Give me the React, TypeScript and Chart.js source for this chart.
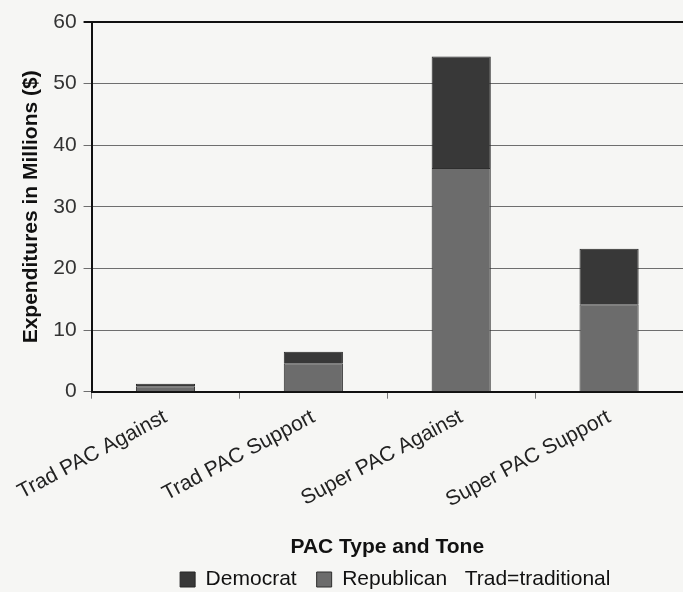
import React, { useEffect, useRef } from "react";
import { Chart, registerables } from "chart.js";

Chart.register(...registerables);

const categories = ["Trad PAC Against", "Trad PAC Support", "Super PAC Against", "Super PAC Support"];
const republican = [0.9, 4.6, 36.3, 14.2];
const democrat = [0.4, 1.9, 18.1, 9.0];
const yTicks = [0, 10, 20, 30, 40, 50, 60];
const xTitle = "PAC Type and Tone";
const yTitle = "Expenditures in Millions ($)";
const legendNote = "Trad=traditional";

const legendShift = {
  id: "legendShift",
  afterLayout(chart: any) {
    const lg = chart.legend;
    if (lg) {
      lg.left += 8;
      lg.right += 8;
    }
  },
};

export default function App() {
  const ref = useRef<HTMLCanvasElement>(null);

  useEffect(() => {
    document.body.style.margin = "0";
    const font = "'Liberation Sans', Arial, Helvetica, sans-serif";
    const chart = new Chart(ref.current as HTMLCanvasElement, {
      type: "bar",
      data: {
        labels: categories,
        datasets: [
          { label: "Republican", data: republican, backgroundColor: "#6c6c6c", borderColor: "#2e2e2e", borderWidth: 1 },
          { label: "Democrat", data: democrat, backgroundColor: "#383838", borderColor: "#262626", borderWidth: 1 },
        ],
      },
      options: {
        animation: false,
        responsive: false,
        layout: { padding: { left: 13, top: 22, right: 0, bottom: -8 } },
        datasets: { bar: { categoryPercentage: 1, barPercentage: 0.4 } },
        scales: {
          x: {
            stacked: true,
            grid: { offset: true, drawOnChartArea: false, drawTicks: true, tickLength: 7, color: "#777" },
            border: { color: "#111", width: 2 },
            ticks: {
              minRotation: 28,
              maxRotation: 28,
              color: "#222",
              font: { family: font, size: 21 },
              padding: 6,
            },
            title: {
              display: true,
              text: xTitle,
              color: "#111",
              font: { family: font, size: 21, weight: "bold" },
              padding: { top: 16, bottom: -11 },
            },
          },
          y: {
            stacked: true,
            min: 0,
            max: 60,
            afterBuildTicks: (s: any) => {
              s.ticks = yTicks.map((v) => ({ value: v }));
            },
            grid: {
              color: (ctx: any) => (ctx.tick && ctx.tick.value === 60 ? "#111" : "#6e6e6e"),
              lineWidth: (ctx: any) => (ctx.tick && ctx.tick.value === 60 ? 2 : 1),
              tickLength: 8,
            },
            border: { color: "#111", width: 2 },
            ticks: { color: "#333", font: { family: font, size: 21 }, padding: 7 },
            title: {
              display: true,
              text: yTitle,
              color: "#111",
              font: { family: font, size: 21, weight: "bold" },
              padding: { top: 6, bottom: 2 },
            },
          },
        },
        plugins: {
          legend: {
            position: "bottom",
            fullSize: false,
            reverse: true,
            labels: {
              boxWidth: 15,
              boxHeight: 15,
              padding: 20,
              color: "#111",
              font: { family: font, size: 21 },
              generateLabels: (c: any) => {
                const items = (Chart.defaults.plugins.legend.labels as any).generateLabels(c);
                return items.map((it: any) =>
                  it.text === "Republican" ? { ...it, text: "Republican   " + legendNote } : it
                );
              },
            },
          },
          tooltip: { enabled: false },
        },
      } as any,
      plugins: [legendShift],
    });
    return () => chart.destroy();
  }, []);

  return (
    <div style={{ width: 683, height: 592, background: "#f6f6f4" }}>
      <canvas ref={ref} width={683} height={592} style={{ display: "block" }} />
    </div>
  );
}
